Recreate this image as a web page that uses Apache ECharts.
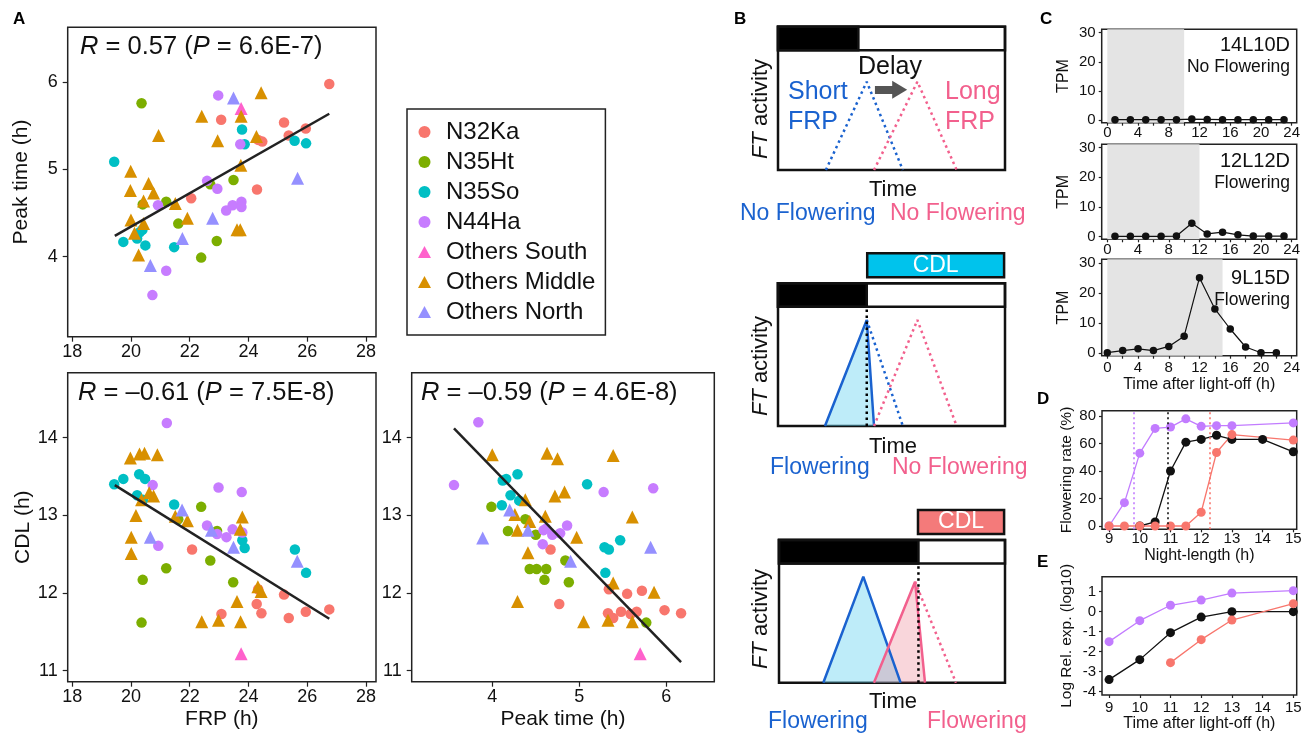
<!DOCTYPE html>
<html>
<head>
<meta charset="UTF-8">
<title>FRP, peak time and CDL</title>
<script src="https://cdn.jsdelivr.net/npm/echarts@6/dist/echarts.min.js"></script>
<style>
  html, body { margin: 0; padding: 0; background: #fff; }
  #main { width: 1309px; height: 734px; }
</style>
</head>
<body>
<div id="main"></div>
<script>
var FONT = '"Liberation Sans", Arial, sans-serif';

// groups (same order everywhere)
var groups = ['N32Ka', 'N35Ht', 'N35So', 'N44Ha', 'Others South', 'Others Middle', 'Others North'];
var groupColors = ['#f8766d', '#7cae00', '#00bfc4', '#c77cff', '#ff61cc', '#d89000', '#9590ff'];
var groupShapes = ['circle', 'circle', 'circle', 'circle', 'triangle', 'triangle', 'triangle'];

// A top: FRP (x) vs peak time (y)
var frpPeak = [
  [[26.75,5.98],[23.07,5.57],[25.21,5.54],[25.37,5.39],[25.95,5.47],[24.33,5.34],[24.47,5.32],[24.29,4.77],[22.05,4.67]],
  [[20.36,5.76],[22.70,4.83],[23.49,4.88],[20.40,4.60],[21.20,4.63],[21.61,4.38],[22.92,4.18],[22.39,3.99]],
  [[19.43,5.09],[23.78,5.46],[23.87,5.29],[25.57,5.33],[25.96,5.30],[19.74,4.17],[20.21,4.21],[20.30,4.28],[20.39,4.31],[20.49,4.13],[21.47,4.11]],
  [[22.97,5.85],[23.72,5.29],[22.59,4.87],[22.94,4.78],[20.92,4.59],[23.24,4.53],[23.46,4.59],[23.76,4.63],[23.76,4.57],[21.20,3.84],[20.73,3.56]],
  [[23.75,5.70]],
  [[24.43,5.88],[22.41,5.61],[23.75,5.61],[20.94,5.39],[22.95,5.33],[24.27,5.38],[23.74,5.05],[19.99,4.98],[19.98,4.76],[20.60,4.84],[20.77,4.73],[20.43,4.64],[21.51,4.61],[20.00,4.42],[20.43,4.38],[21.92,4.44],[23.61,4.31],[23.72,4.31],[20.12,4.27],[20.26,4.02]],
  [[23.49,5.82],[25.67,4.90],[22.78,4.44],[21.75,4.21],[20.66,3.90]]
];
// A bottom left: FRP (x) vs CDL (y)
var frpCdl = [
  [[22.08,12.56],[23.08,11.73],[24.28,11.86],[24.44,11.74],[24.33,12.05],[25.21,11.98],[25.37,11.68],[25.95,11.76],[26.75,11.79]],
  [[22.39,13.11],[21.61,12.95],[22.93,12.80],[22.70,12.42],[21.20,12.32],[20.40,12.17],[23.48,12.14],[20.36,11.62]],
  [[19.43,13.40],[19.74,13.47],[20.28,13.53],[20.48,13.47],[20.21,13.26],[20.41,13.20],[21.47,13.14],[23.79,12.68],[23.87,12.58],[25.58,12.56],[25.96,12.26]],
  [[21.22,14.19],[20.74,13.39],[22.98,13.36],[23.77,13.30],[22.59,12.87],[22.93,12.76],[23.25,12.72],[23.46,12.82],[23.79,12.78],[20.93,12.61]],
  [[23.75,11.22]],
  [[19.98,13.74],[20.29,13.79],[20.46,13.80],[20.90,13.78],[20.62,13.29],[20.77,13.25],[20.36,13.20],[20.17,13.00],[20.01,12.72],[20.01,12.51],[21.51,12.99],[21.92,12.93],[23.79,12.98],[23.72,12.82],[24.32,12.08],[24.43,12.02],[23.61,11.89],[22.41,11.63],[22.98,11.65],[23.73,11.63]],
  [[21.74,13.07],[20.66,12.72],[22.74,12.81],[23.49,12.59],[25.66,12.41]]
];
// A bottom right: peak time (x) vs CDL (y)
var peakCdl = [
  [[4.67,12.56],[4.77,11.86],[5.34,12.05],[5.55,11.99],[5.72,12.03],[5.33,11.74],[5.39,11.68],[5.48,11.76],[5.59,11.73],[5.66,11.76],[5.98,11.78],[6.17,11.74]],
  [[3.99,13.11],[4.18,12.80],[4.38,12.95],[4.50,12.75],[4.43,12.31],[4.51,12.31],[4.62,12.31],[4.60,12.17],[4.84,12.42],[4.88,12.14],[5.77,11.62]],
  [[4.16,13.47],[4.12,13.45],[4.29,13.53],[4.21,13.26],[4.31,13.19],[4.11,13.13],[5.09,13.40],[5.29,12.59],[5.34,12.56],[5.47,12.68],[5.30,12.26]],
  [[3.84,14.20],[3.56,13.39],[5.28,13.30],[5.85,13.35],[4.86,12.87],[4.78,12.77],[4.69,12.75],[4.59,12.81],[4.62,12.83],[4.58,12.63]],
  [[5.70,11.22]],
  [[4.00,13.78],[4.63,13.80],[4.75,13.73],[5.39,13.77],[4.72,13.25],[4.83,13.30],[4.38,13.20],[4.26,13.01],[4.43,12.92],[4.61,12.99],[4.29,12.81],[4.97,12.72],[5.61,12.98],[4.41,12.52],[5.39,12.13],[5.86,12.01],[4.29,11.89],[5.05,11.63],[5.33,11.65],[5.61,11.63]],
  [[4.20,13.07],[3.89,12.71],[4.41,12.81],[4.90,12.41],[5.82,12.59]]
];
// regression lines
var fitFrpPeak = [[19.45,4.24],[26.75,5.64]];
var fitFrpCdl = [[19.45,13.39],[26.75,11.67]];
var fitPeakCdl = [[3.56,14.12],[6.17,11.11]];
var statTexts = ['{i|R} = 0.57 ({i|P} = 6.6E-7)', '{i|R} = \u20130.61 ({i|P} = 7.5E-8)', '{i|R} = \u20130.59 ({i|P} = 4.6E-8)'];

var frpTicks = [18, 20, 22, 24, 26, 28];
var peakTicks = [4, 5, 6];
var cdlTicks = [11, 12, 13, 14];

// B schematics (time 0-100 across the box, activity 0-100)
var barBottom = 83.5;
var nightEnd = [35.4, 39.1, 61.7];
var cdlStart = [null, 39.3, 61.5];
var cdlColors = [null, '#00c3ec', '#f47a7a'];
var shortDotted1 = [[21.1,0],[39.1,61.6],[55,0]];
var longDotted1 = [[42.3,0],[61.4,61.6],[78.7,0]];
var shortSolid2 = [[20.7,0],[39.1,74.3],[42.3,0]];
var shortDotted2 = [[39.1,74.3],[55,0]];
var longDotted2 = [[42.3,0],[61.4,74.3],[78.7,0]];
var shortSolid3 = [[19.6,0],[37.3,74.3],[53.8,0]];
var longSolid3 = [[42,0],[60.2,70.8],[64.6,0]];
var longDotted3 = [[60.2,70.8],[78.3,0]];

// C: FT TPM time courses
var hoursOdd = [1, 3, 5, 7, 9, 11, 13, 15, 17, 19, 21, 23];
var hoursEven = [0, 2, 4, 6, 8, 10, 12, 14, 16, 18, 20, 22];
var tpm14L10D = [0.1, 0.1, 0.1, 0.1, 0.1, 0.3, 0.2, 0.1, 0.1, 0.1, 0.1, 0.1];
var tpm12L12D = [0.1, 0.1, 0.1, 0.1, 0.2, 4.5, 0.9, 1.5, 0.6, 0.2, 0.2, 0.2];
var tpm9L15D = [0.2, 0.9, 1.5, 0.9, 2.3, 5.7, 25.2, 14.8, 8.1, 2.1, 0.2, 0.2];
var darkHours = [10, 12, 15];
var cNames = ['14L10D', '12L12D', '9L15D'];
var cOutcomes = ['No Flowering', 'Flowering', 'Flowering'];
var tpmTicks = [0, 10, 20, 30];
var hourTicks = [0, 2, 4, 6, 8, 10, 12, 14, 16, 18, 20, 22, 24];
var hourLabels = [0, 4, 8, 12, 16, 20, 24];

// D: flowering rate vs night length
var rateViolet = [[9,0],[9.5,17],[10,53],[10.5,71],[11,72],[11.5,78],[12,72.5],[12.5,73],[13,73],[15,75]];
var rateBlack = [[10,0],[10.5,3],[11,40],[11.5,61],[12,63],[12.5,66],[13,63],[14,63],[15,54]];
var rateRed = [[9,0],[9.5,0],[10,0],[10.5,0],[11,0],[11.5,0],[12,10],[12.5,53.5],[13,66.5],[15,62.5]];
var cdlViolet = 9.82, cdlBlack = 10.91, cdlRed = 12.29;
var rateTicks = [0, 20, 40, 60, 80];
var nightTicks = [9, 10, 11, 12, 13, 14, 15];

// E: log relative expression
var expViolet = [[9,-1.5],[10,-0.45],[11,0.32],[12,0.58],[13,0.93],[15,1.05]];
var expBlack = [[9,-3.4],[10,-2.4],[11,-1.05],[12,-0.27],[13,0],[15,0]];
var expRed = [[11,-2.55],[12,-1.4],[13,-0.42],[15,0.4]];
var expTicks = [-4, -3, -2, -1, 0, 1];

var VIOLET = '#c27cff', RED = '#f8766d', BLACK = '#111';
var BLUE = '#1a62cf', PINK = '#f2608d';

var chart = echarts.init(document.getElementById('main'), null, { renderer: 'canvas' });

var grids = [
  { left: 67.7, top: 27.3, width: 308.3, height: 309.4 },
  { left: 67.7, top: 372.7, width: 308.3, height: 309 },
  { left: 411.7, top: 372.7, width: 302.6, height: 309 },
  { left: 778, top: 26.7, width: 227, height: 143.3 },
  { left: 778, top: 251.9, width: 227, height: 174.1 },
  { left: 779, top: 508.6, width: 226, height: 174.1 },
  { left: 1101.7, top: 29.3, width: 195, height: 93.4 },
  { left: 1101.7, top: 144.3, width: 195, height: 95 },
  { left: 1101.7, top: 259.3, width: 195, height: 96.4 },
  { left: 1102, top: 410.7, width: 194.7, height: 118.6 },
  { left: 1102, top: 576.7, width: 194.7, height: 118.3 }
];
grids.forEach(function (g, i) {
  var boxed = i < 3 || i > 5;
  g.show = boxed;
  g.borderColor = '#222';
  g.borderWidth = boxed ? 1.5 : 0;
  g.backgroundColor = 'rgba(0,0,0,0)';
  g.containLabel = false;
});

function axis(gi, min, max, o) {
  o = o || {};
  var ax = {
    type: 'value', gridIndex: gi, min: min, max: max,
    axisLine: { show: false, onZero: false },
    splitLine: { show: false },
    axisTick: { show: !!o.ticks, customValues: o.ticks, length: o.tickLen || 5, lineStyle: { color: '#222', width: 1.2 } },
    axisLabel: { show: !!o.labels, customValues: o.labels, fontSize: o.fontSize || 18, color: '#111', fontFamily: FONT, margin: o.margin || 8 }
  };
  if (o.name) {
    ax.name = o.name;
    ax.nameLocation = 'middle';
    ax.nameGap = o.nameGap;
    ax.nameTextStyle = { fontSize: o.nameSize || 21, color: '#111', fontFamily: FONT };
  }
  return ax;
}

var xAxes = [
  axis(0, 17.847, 28.34, { ticks: frpTicks, labels: frpTicks, margin: 6 }),
  axis(1, 17.847, 28.34, { ticks: frpTicks, labels: frpTicks, margin: 6, name: 'FRP (h)', nameGap: 27 }),
  axis(2, 3.074, 6.552, { ticks: peakTicks, labels: peakTicks, margin: 6, name: 'Peak time (h)', nameGap: 27 }),
  axis(3, 0, 100), axis(4, 0, 100), axis(5, 0, 100),
  axis(6, -0.73, 24.65, { ticks: hourTicks, labels: hourLabels, fontSize: 15, tickLen: 3, margin: 3 }),
  axis(7, -0.73, 24.65, { ticks: hourTicks, labels: hourLabels, fontSize: 15, tickLen: 3, margin: 3 }),
  axis(8, -0.73, 24.65, { ticks: hourTicks, labels: hourLabels, fontSize: 15, tickLen: 3, margin: 5, name: 'Time after light-off (h)', nameGap: 18, nameSize: 16 }),
  axis(9, 8.77, 15.11, { ticks: nightTicks, labels: nightTicks, fontSize: 15, tickLen: 3, margin: 2, name: 'Night-length (h)', nameGap: 14, nameSize: 16 }),
  axis(10, 8.77, 15.11, { ticks: nightTicks, labels: nightTicks, fontSize: 15, tickLen: 3, margin: 5, name: 'Time after light-off (h)', nameGap: 19, nameSize: 16 })
];
var yAxes = [
  axis(0, 3.083, 6.631, { ticks: peakTicks, labels: peakTicks, margin: 10, name: 'Peak time (h)', nameGap: 36 }),
  axis(1, 10.859, 14.837, { ticks: cdlTicks, labels: cdlTicks, margin: 10, name: 'CDL (h)', nameGap: 34 }),
  axis(2, 10.859, 14.837, { ticks: cdlTicks, labels: cdlTicks, margin: 10 }),
  axis(3, 0, 100), axis(4, 0, 122), axis(5, 0, 122),
  axis(6, -0.93, 31.17, { ticks: tpmTicks, labels: tpmTicks, fontSize: 15, tickLen: 3, margin: 6, name: 'TPM', nameGap: 30, nameSize: 16 }),
  axis(7, -0.9, 31.15, { ticks: tpmTicks, labels: tpmTicks, fontSize: 15, tickLen: 3, margin: 6, name: 'TPM', nameGap: 30, nameSize: 16 }),
  axis(8, -0.8, 31.33, { ticks: tpmTicks, labels: tpmTicks, fontSize: 15, tickLen: 3, margin: 6, name: 'TPM', nameGap: 30, nameSize: 16 }),
  axis(9, -2.4, 83.9, { ticks: rateTicks, labels: rateTicks, fontSize: 15, tickLen: 3, margin: 6, name: 'Flowering rate (%)', nameGap: 27, nameSize: 15.5 }),
  axis(10, -4.17, 1.75, { ticks: expTicks, labels: expTicks, fontSize: 15, tickLen: 3, margin: 6, name: 'Log Rel. exp. (log10)', nameGap: 27, nameSize: 15.5 })
];

var series = [];

// panel A scatters
[frpPeak, frpCdl, peakCdl].forEach(function (panel, pi) {
  panel.forEach(function (pts, g) {
    series.push({
      type: 'scatter', name: groups[g], xAxisIndex: pi, yAxisIndex: pi,
      data: pts, symbol: groupShapes[g], symbolSize: g < 4 ? 10.5 : 13,
      itemStyle: { color: groupColors[g], opacity: 1 }, silent: true, z: 3
    });
  });
});
[fitFrpPeak, fitFrpCdl, fitPeakCdl].forEach(function (fit, pi) {
  series.push({
    type: 'line', name: 'fit' + pi, xAxisIndex: pi, yAxisIndex: pi, data: fit,
    symbol: 'none', lineStyle: { color: '#222', width: 2.5 }, silent: true, z: 5
  });
});

// panel B schematics
function outline(y0, x1, y1, fill) {
  return [
    { coord: [0, y0], itemStyle: { color: fill || 'rgba(0,0,0,0)', borderColor: '#111', borderWidth: 2.5 } },
    { coord: [x1, y1] }
  ];
}
for (var s = 0; s < 3; s++) {
  var gi = 3 + s;
  var areas = [
    outline(0, 100, 100),
    outline(barBottom, nightEnd[s], 100, '#000'),
    outline(barBottom, 100, 100)
  ];
  if (cdlStart[s] !== null) {
    areas.push([
      { name: 'CDL', coord: [cdlStart[s], 104.2],
        itemStyle: { color: cdlColors[s], borderColor: '#111', borderWidth: 2.5 },
        label: { show: true, position: 'inside', color: '#fff', fontSize: 23, fontFamily: FONT } },
      { coord: [99.6, 121] }
    ]);
  }
  var frame = {
    type: 'line', name: 'frame' + s, xAxisIndex: gi, yAxisIndex: gi, data: [[0, 0]],
    symbol: 'none', lineStyle: { width: 0 }, silent: true,
    markArea: { silent: true, label: { show: false }, data: areas }
  };
  if (s === 0) {
    frame.markLine = {
      silent: true, symbol: ['none', 'triangle'], symbolSize: [18, 15],
      label: { show: false },
      lineStyle: { color: '#555', width: 8, type: 'solid' },
      data: [[{ coord: [42.7, 56] }, { coord: [53.6, 56] }]]
    };
  }
  series.push(frame);
}
function schemLine(gi, pts, color, dotted, fill) {
  var sr = {
    type: 'line', name: 'schem', xAxisIndex: gi, yAxisIndex: gi, data: pts, symbol: 'none', silent: true,
    lineStyle: { color: color, width: 2.5, type: dotted ? [2.5, 3.5] : 'solid' }, z: 4
  };
  if (fill) sr.areaStyle = { color: fill, opacity: 1 };
  return sr;
}
var BLUE_FILL = 'rgba(100,210,240,0.42)', PINK_FILL = 'rgba(235,120,135,0.3)';
series.push(schemLine(3, shortDotted1, BLUE, true));
series.push(schemLine(3, longDotted1, PINK, true));
series.push(schemLine(4, shortSolid2, BLUE, false, BLUE_FILL));
series.push(schemLine(4, shortDotted2, BLUE, true));
series.push(schemLine(4, longDotted2, PINK, true));
series.push(schemLine(4, [[nightEnd[1], 0], [nightEnd[1], barBottom]], '#000', true));
series.push(schemLine(5, shortSolid3, BLUE, false, BLUE_FILL));
series.push(schemLine(5, longSolid3, PINK, false, PINK_FILL));
series.push(schemLine(5, longDotted3, PINK, true));
series.push(schemLine(5, [[nightEnd[2], 0], [nightEnd[2], barBottom]], '#000', true));

// panel C
[[hoursOdd, tpm14L10D], [hoursOdd, tpm12L12D], [hoursEven, tpm9L15D]].forEach(function (d, k) {
  series.push({
    type: 'line', name: cNames[k], xAxisIndex: 6 + k, yAxisIndex: 6 + k,
    data: d[0].map(function (h, i) { return [h, d[1][i]]; }),
    symbol: 'circle', symbolSize: 7.5, itemStyle: { color: BLACK },
    lineStyle: { color: BLACK, width: 1.2 }, silent: true,
    markArea: { silent: true, itemStyle: { color: '#e4e4e4' }, data: [[{ xAxis: 0 }, { xAxis: darkHours[k] }]] }
  });
});

// panel D and E
function curve(gi, pts, color, name) {
  return {
    type: 'line', name: name, xAxisIndex: gi, yAxisIndex: gi, data: pts,
    symbol: 'circle', symbolSize: 9, itemStyle: { color: color },
    lineStyle: { color: color, width: 1.3 }, silent: true
  };
}
var dV = curve(9, rateViolet, VIOLET, 'dV');
dV.markLine = {
  silent: true, symbol: 'none', label: { show: false },
  data: [
    { xAxis: cdlViolet, lineStyle: { color: VIOLET, type: [2, 3], width: 1.6 } },
    { xAxis: cdlBlack, lineStyle: { color: BLACK, type: [2, 3], width: 1.6 } },
    { xAxis: cdlRed, lineStyle: { color: RED, type: [2, 3], width: 1.6 } }
  ]
};
series.push(dV, curve(9, rateBlack, BLACK, 'dB'), curve(9, rateRed, RED, 'dR'));
series.push(curve(10, expViolet, VIOLET, 'eV'), curve(10, expBlack, BLACK, 'eB'), curve(10, expRed, RED, 'eR'));

// text annotations
function txt(x, y, text, size, color, o) {
  o = o || {};
  return {
    type: 'text', x: x, y: y, rotation: o.rot || 0, silent: true, z: 100,
    style: {
      text: text, fill: color || '#111', fontSize: size, fontFamily: FONT,
      fontWeight: o.bold ? 'bold' : 'normal',
      textAlign: o.align || 'left', textVerticalAlign: 'middle',
      rich: { i: { fontStyle: 'italic', fontSize: size, fontFamily: FONT, fill: color || '#111' } }
    }
  };
}
var graphics = [
  txt(13, 19, 'A', 17, '#000', { bold: true }),
  txt(734, 19, 'B', 17, '#000', { bold: true }),
  txt(1040, 19, 'C', 17, '#000', { bold: true }),
  txt(1037, 399, 'D', 17, '#000', { bold: true }),
  txt(1037, 562, 'E', 17, '#000', { bold: true }),
  txt(80, 47, statTexts[0], 25.5),
  txt(78, 393, statTexts[1], 25.5),
  txt(421, 393, statTexts[2], 25.5),
  // B
  txt(890, 67, 'Delay', 25, '#111', { align: 'center' }),
  txt(788, 92, 'Short', 25, BLUE), txt(788, 122, 'FRP', 25, BLUE),
  txt(945, 92, 'Long', 25, PINK), txt(945, 122, 'FRP', 25, PINK),
  txt(761, 109, '{i|FT} activity', 22, '#111', { align: 'center', rot: Math.PI / 2 }),
  txt(761, 366, '{i|FT} activity', 22, '#111', { align: 'center', rot: Math.PI / 2 }),
  txt(761, 619, '{i|FT} activity', 22, '#111', { align: 'center', rot: Math.PI / 2 }),
  txt(893, 190, 'Time', 22, '#111', { align: 'center' }),
  txt(893, 447, 'Time', 22, '#111', { align: 'center' }),
  txt(893, 702, 'Time', 22, '#111', { align: 'center' }),
  txt(740, 214, 'No Flowering', 23, BLUE), txt(890, 214, 'No Flowering', 23, PINK),
  txt(770, 468, 'Flowering', 23, BLUE), txt(892, 468, 'No Flowering', 23, PINK),
  txt(768, 722, 'Flowering', 23, BLUE), txt(927, 722, 'Flowering', 23, PINK)
];
// C condition labels
[45, 161, 278].forEach(function (y, k) {
  graphics.push(txt(1290, y, cNames[k], 20, '#111', { align: 'right' }));
  graphics.push(txt(1290, y + 22, cOutcomes[k], 17.5, '#111', { align: 'right' }));
});

chart.setOption({
  animation: false,
  backgroundColor: '#fff',
  textStyle: { fontFamily: FONT },
  grid: grids,
  xAxis: xAxes,
  yAxis: yAxes,
  legend: {
    left: 407, top: 109, orient: 'vertical', selectedMode: false,
    padding: [11, 10, 11, 11], itemGap: 6, itemWidth: 13, itemHeight: 12,
    borderColor: '#222', borderWidth: 1.5, backgroundColor: '#fff',
    textStyle: { fontSize: 24, fontFamily: FONT, color: '#111', lineHeight: 24, padding: [0, 0, 0, 10] },
    data: groups.map(function (n, i) { return { name: n, icon: groupShapes[i] }; })
  },
  series: series,
  graphic: { elements: graphics }
});
</script>
</body>
</html>
